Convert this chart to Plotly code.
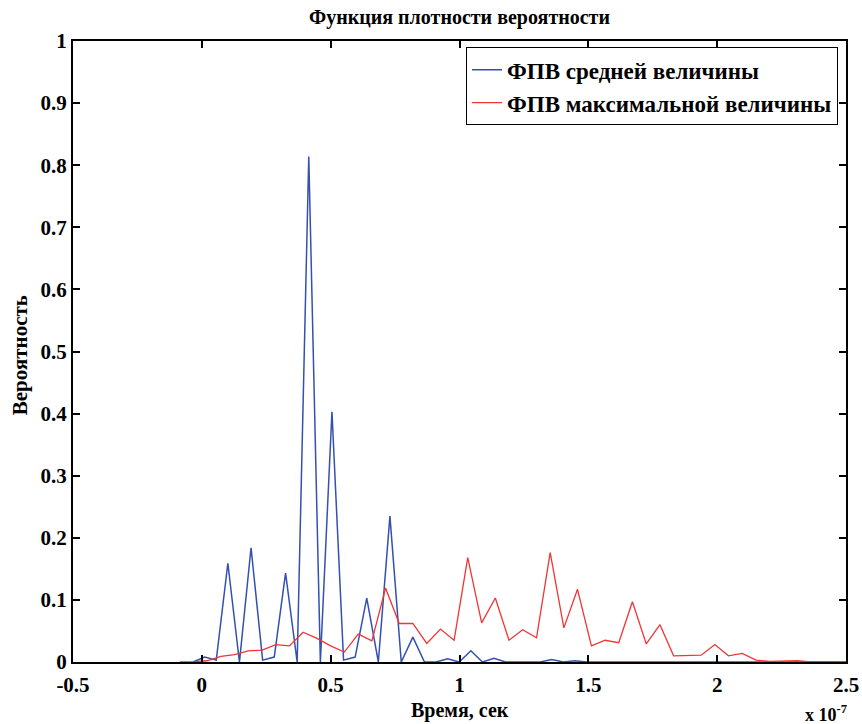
import plotly.graph_objects as go

# Blue: ФПВ средней величины (x in units of 1e-7 s)
blue_x = [-0.034, 0.011, 0.056, 0.101, 0.146, 0.191, 0.236, 0.281, 0.325, 0.370,
          0.415, 0.460, 0.505, 0.550, 0.595, 0.640, 0.685, 0.730, 0.774, 0.819,
          0.864, 0.909, 0.954, 0.999, 1.044, 1.089, 1.134, 1.179, 1.223, 1.268,
          1.313, 1.358, 1.403, 1.448, 1.493, 2.500]
blue_y = [0, 0.008, 0.003, 0.159, 0, 0.184, 0.003, 0.008, 0.143, 0,
          0.814, 0, 0.403, 0.003, 0.008, 0.103, 0, 0.235, 0, 0.040,
          0, 0, 0.005, 0, 0.018, 0, 0.006, 0, 0, 0,
          0, 0.004, 0, 0.002, 0, 0]

# Red: ФПВ максимальной величины
red_x = [-0.086, -0.033, 0.021, 0.074, 0.127, 0.180, 0.234, 0.287, 0.340, 0.393,
         0.447, 0.500, 0.553, 0.607, 0.660, 0.713, 0.766, 0.819, 0.873, 0.926,
         0.979, 1.032, 1.086, 1.139, 1.192, 1.245, 1.299, 1.352, 1.405, 1.458,
         1.512, 1.565, 1.618, 1.671, 1.725, 1.778, 1.831, 1.884, 1.938, 1.991,
         2.044, 2.097, 2.151, 2.204, 2.257, 2.310, 2.364, 2.417, 2.470, 2.523]
red_y = [0, 0, 0.002, 0.009, 0.012, 0.018, 0.019, 0.028, 0.026, 0.048,
         0.038, 0.026, 0.016, 0.045, 0.034, 0.119, 0.062, 0.062, 0.030, 0.053,
         0.035, 0.168, 0.063, 0.103, 0.035, 0.052, 0.039, 0.176, 0.055, 0.117,
         0.026, 0.035, 0.031, 0.097, 0.029, 0.060, 0.010, 0.011, 0.011, 0.028,
         0.010, 0.014, 0.003, 0.001, 0.002, 0.002, 0, 0, 0, 0]

x_ticks = [-0.5, 0, 0.5, 1, 1.5, 2, 2.5]
x_tick_labels = ["-0.5", "0", "0.5", "1", "1.5", "2", "2.5"]
y_ticks = [0, 0.1, 0.2, 0.3, 0.4, 0.5, 0.6, 0.7, 0.8, 0.9, 1]
y_tick_labels = ["0", "0.1", "0.2", "0.3", "0.4", "0.5", "0.6", "0.7", "0.8", "0.9", "1"]

FONT = "Liberation Serif"

fig = go.Figure()
fig.add_trace(go.Scatter(x=blue_x, y=blue_y, mode="lines", name="ФПВ средней величины",
                         line=dict(color="#3450b0", width=1.5)))
fig.add_trace(go.Scatter(x=red_x, y=red_y, mode="lines", name="ФПВ максимальной величины",
                         line=dict(color="#f03535", width=1.3)))

axis_common = dict(showline=True, linecolor="black", linewidth=2, mirror="ticks",
                   ticks="inside", ticklen=7, tickwidth=2, tickcolor="black",
                   showgrid=False, zeroline=False, automargin=False,
                   ticklabeloverflow="allow",
                   tickfont=dict(family=FONT, size=21, color="black", weight="bold"))

fig.update_layout(
    width=862, height=724,
    margin=dict(l=73, r=16, t=41, b=62),
    paper_bgcolor="white", plot_bgcolor="white",
    showlegend=True,
    legend=dict(x=0.9897, y=0.99, xanchor="right", yanchor="top",
                bgcolor="white", bordercolor="black", borderwidth=1,
                font=dict(family=FONT, size=23, color="black", weight="bold")),
    xaxis=dict(range=[-0.5, 2.5], tickvals=x_ticks, ticktext=x_tick_labels,
               ticklabelstandoff=3, **axis_common),
    yaxis=dict(range=[0, 1], tickvals=y_ticks, ticktext=y_tick_labels, **axis_common),
    annotations=[
        dict(text="Функция плотности вероятности", xref="paper", yref="paper",
             x=0.5, y=1.0, yshift=24, showarrow=False, xanchor="center", yanchor="middle",
             font=dict(family=FONT, size=20, color="black", weight="bold")),
        dict(text="Время, сек", xref="paper", yref="paper",
             x=0.5, y=0, yshift=-48, showarrow=False, xanchor="center", yanchor="middle",
             font=dict(family=FONT, size=20, color="black", weight="bold")),
        dict(text="Вероятность", xref="paper", yref="paper", textangle=-90,
             x=0, xshift=-53, y=0.494, showarrow=False, xanchor="center", yanchor="middle",
             font=dict(family=FONT, size=21, color="black", weight="bold")),
        dict(text="x 10<sup>-7</sup>", xref="paper", yref="paper",
             x=1.0, xshift=3, y=0, yshift=-51, showarrow=False, xanchor="right", yanchor="middle",
             font=dict(family=FONT, size=18, color="black", weight="bold")),
    ],
)

fig.write_html("out.html", config={"displayModeBar": False},
               post_script="document.body.style.margin='0';document.body.style.overflow='hidden';")
